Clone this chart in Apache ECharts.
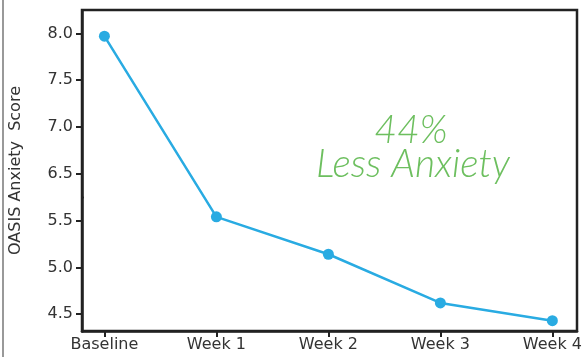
<!DOCTYPE html>
<html>
<head>
<meta charset="utf-8">
<script src="https://cdn.jsdelivr.net/npm/echarts@6/dist/echarts.min.js"></script>
<style>
  html, body { margin: 0; padding: 0; background: #fff; }
  #chart { width: 585px; height: 357px; }
</style>
</head>
<body>
<div id="chart"></div>
<script>
var weeks = ['Baseline', 'Week 1', 'Week 2', 'Week 3', 'Week 4']
var scores = [7.97, 5.54, 5.14, 4.62, 4.43]
var yTicks = [4.5, 5.0, 5.5, 6.5, 7.0, 7.5, 8.0]

var chart = echarts.init(document.getElementById('chart'))
var points = []
for (var i = 0; i < scores.length; i++) {
  points.push([i, scores[i]])
}

var option = {
  animation: false,
  grid: {
    left: 77,
    right: 8,
    top: 10,
    bottom: 26,
    show: true,
    borderColor: '#222',
    borderWidth: 2.5,
  },
  xAxis: {
    type: 'value',
    min: -0.2,
    max: 4.22,
    splitLine: { show: false },
    axisLine: { show: true, onZero: false, lineStyle: { color: '#222', width: 2.5 } },
    axisTick: {
      show: true,
      customValues: [0, 1, 2, 3, 4],
      length: 6,
      lineStyle: { color: '#222', width: 2 },
    },
    axisLabel: {
      customValues: [0, 1, 2, 3, 4],
      formatter: function (v) {
        return weeks[Math.round(v)]
      },
      fontFamily: 'DejaVu Sans',
      fontSize: 16,
      color: '#333',
      margin: 6,
    },
  },
  yAxis: {
    type: 'value',
    min: 4.32,
    max: 8.25,
    // the scale skips 6.0 between 5.5 and 6.5
    breaks: [{ start: 5.75, end: 6.25, gap: 0 }],
    breakArea: { show: false },
    splitLine: { show: false },
    name: 'OASIS Anxiety  Score',
    nameLocation: 'middle',
    nameGap: 58,
    nameTextStyle: { fontFamily: 'DejaVu Sans', fontSize: 16, color: '#333' },
    axisLine: { show: true, onZero: false, lineStyle: { color: '#222', width: 2.5 } },
    axisTick: {
      show: true,
      customValues: yTicks,
      length: 6,
      lineStyle: { color: '#222', width: 2 },
    },
    axisLabel: {
      customValues: yTicks,
      formatter: function (v) {
        return v.toFixed(1)
      },
      fontFamily: 'DejaVu Sans',
      fontSize: 16,
      color: '#333',
      margin: 9,
    },
  },
  graphic: [
    {
      type: 'line',
      shape: { x1: 3, y1: 0, x2: 3, y2: 357 },
      style: { stroke: '#999', lineWidth: 2 },
    },
    {
      type: 'text',
      x: 411,
      y: 130,
      style: {
        text: '44%',
        font: 'italic 300 39px Lato',
        fill: '#6dbf5f',
        textAlign: 'center',
        textVerticalAlign: 'middle',
      },
    },
    {
      type: 'text',
      x: 413,
      y: 164,
      style: {
        text: 'Less Anxiety',
        font: 'italic 300 39px Lato',
        fill: '#6dbf5f',
        textAlign: 'center',
        textVerticalAlign: 'middle',
        letterSpacing: 0.6,
      },
    },
  ],
  series: [
    {
      type: 'line',
      data: points,
      symbol: 'circle',
      symbolSize: 11,
      lineStyle: { color: '#29abe2', width: 2.5 },
      itemStyle: { color: '#29abe2' },
    },
  ],
}
chart.setOption(option)
</script>
</body>
</html>
